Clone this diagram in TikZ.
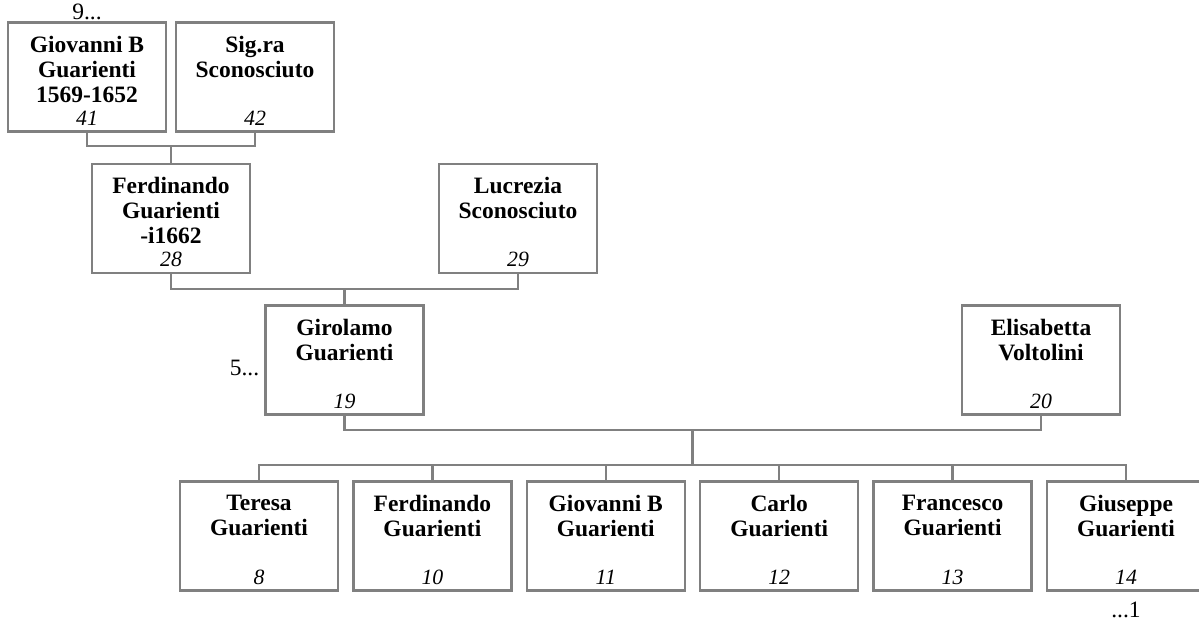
\documentclass[tikz,border=0pt]{standalone}
\usepackage{fontspec}
\setmainfont{Liberation Serif}
\usetikzlibrary{positioning}
\definecolor{linegray}{RGB}{128,128,128}

\begin{document}
\begin{tikzpicture}[
  box/.style={rectangle, draw=linegray, line width=1.8pt, minimum width=3.95cm, minimum height=2.725cm, inner sep=0pt},
  who/.style={font=\fontsize{16.7}{17.8}\selectfont\bfseries, align=center, inner sep=0pt},
  num/.style={font=\fontsize{15.5}{17}\selectfont\itshape, inner sep=0pt},
  more/.style={font=\fontsize{16.7}{19}\selectfont, inner sep=0pt},
  link/.style={draw=linegray, line width=1.8pt},
]
\useasboundingbox (0,0) rectangle (29.975,-15.625);

% === Great-grandparents ===
\node[box] (p41) at (2.175, -1.925) {};
\node[who, below=0.36cm of p41.north] (p41t) {Giovanni B\\Guarienti\\1569-1652};
\node[num, above=0.17cm of p41.south] (p41n) {41};
\node[more, above=1pt of p41] (m9) {9...};

\node[box] (p42) at (6.375, -1.925) {};
\node[who, below=0.36cm of p42.north] (p42t) {Sig.ra\\Sconosciuto};
\node[num, above=0.17cm of p42.south] (p42n) {42};

% === Grandparents ===
\node[box] (p28) at (4.275, -5.4625) {};
\node[who, below=0.36cm of p28.north] (p28t) {Ferdinando\\Guarienti\\-i1662};
\node[num, above=0.17cm of p28.south] (p28n) {28};

\node[box] (p29) at (12.95, -5.4625) {};
\node[who, below=0.36cm of p29.north] (p29t) {Lucrezia\\Sconosciuto};
\node[num, above=0.17cm of p29.south] (p29n) {29};

% === Parents ===
\node[box] (p19) at (8.6125, -9.0) {};
\node[who, below=0.36cm of p19.north] (p19t) {Girolamo\\Guarienti};
\node[num, above=0.17cm of p19.south] (p19n) {19};
\node[more, left=0.12cm of p19, yshift=-0.2cm] (m5) {5...};

\node[box] (p20) at (26.025, -9.0) {};
\node[who, below=0.36cm of p20.north] (p20t) {Elisabetta\\Voltolini};
\node[num, above=0.17cm of p20.south] (p20n) {20};

% === Children ===
\node[box] (c8) at (6.475, -13.4) {};
\node[who, below=0.36cm of c8.north] (c8t) {Teresa\\Guarienti};
\node[num, above=0.17cm of c8.south] (c8n) {8};

\node[box] (c10) at (10.81, -13.4) {};
\node[who, below=0.36cm of c10.north] (c10t) {Ferdinando\\Guarienti};
\node[num, above=0.17cm of c10.south] (c10n) {10};

\node[box] (c11) at (15.145, -13.4) {};
\node[who, below=0.36cm of c11.north] (c11t) {Giovanni B\\Guarienti};
\node[num, above=0.17cm of c11.south] (c11n) {11};

\node[box] (c12) at (19.48, -13.4) {};
\node[who, below=0.36cm of c12.north] (c12t) {Carlo\\Guarienti};
\node[num, above=0.17cm of c12.south] (c12n) {12};

\node[box] (c13) at (23.815, -13.4) {};
\node[who, below=0.36cm of c13.north] (c13t) {Francesco\\Guarienti};
\node[num, above=0.17cm of c13.south] (c13n) {13};

\node[box] (c14) at (28.15, -13.4) {};
\node[who, below=0.36cm of c14.north] (c14t) {Giuseppe\\Guarienti};
\node[num, above=0.17cm of c14.south] (c14n) {14};
\node[more, below=0.25cm of c14] (m1) {...1};

% === Connectors ===
\coordinate (j1) at (4.275, -3.65);
\coordinate (j2) at (8.6125, -7.225);
\coordinate (j3) at (17.31875, -10.75);
\coordinate (j4) at (17.31875, -11.625);

\draw[link] (p41.south) |- (j1) -| (p42.south);
\draw[link] (j1) -- (p28.north);
\draw[link] (p28.south) |- (j2) -| (p29.south);
\draw[link] (j2) -- (p19.north);
\draw[link] (p19.south) |- (j3) -| (p20.south);
\draw[link] (j3) -- (j4);
\draw[link] (c8.north) |- (j4) -| (c14.north);
\foreach \c in {c10,c11,c12,c13}
  \draw[link] (\c.north) -- (\c.north |- j4);

\end{tikzpicture}
\end{document}
